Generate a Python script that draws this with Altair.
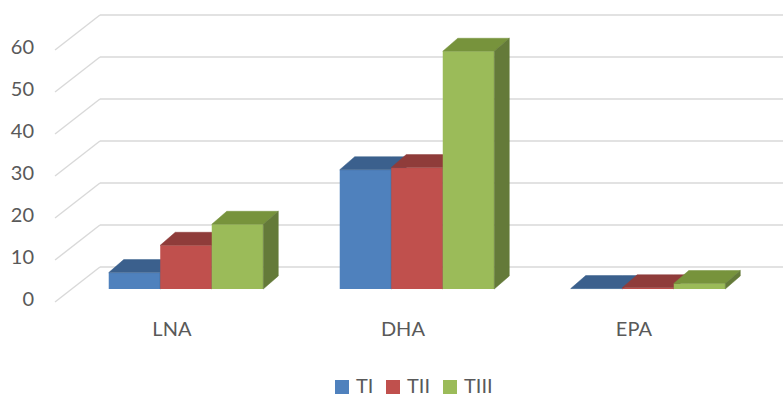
import altair as alt
import pandas as pd

# ---- data ----
categories = ["LNA", "DHA", "EPA"]
series = ["TI", "TII", "TIII"]
TI = [3.9, 28.4, 0.1]
TII = [10.4, 28.9, 0.3]
TIII = [15.4, 56.6, 1.3]
ticks = [0, 10, 20, 30, 40, 50, 60]

values = {"TI": TI, "TII": TII, "TIII": TIII}
front_col = {"TI": "#4F81BD", "TII": "#C0504D", "TIII": "#9BBB59"}
top_col = {"TI": "#3B608D", "TII": "#8F3C3A", "TIII": "#77933C"}
side_col = {"TI": "#33557D", "TII": "#7E3432", "TIII": "#647A39"}

# ---- 3D geometry constants (style) ----
BW = 0.223          # bar width in category units
DX, DY = 0.065, 3.1  # bar depth offset (x units, value units)
FRONT_DX, FRONT_DY = -0.072, -3.1
BACK_DX, BACK_DY = 0.1225, 5.24
XMIN, XMAX = -0.8052, 2.5844
YMIN, YMAX = -25.48, 68.81
WALL_FRONT_X = -0.567
WALL_BACK_X = WALL_FRONT_X + (BACK_DX - FRONT_DX)

xs = alt.Scale(domain=[XMIN, XMAX], nice=False, zero=False)
ys = alt.Scale(domain=[YMIN, YMAX], nice=False, zero=False)
color_scale = alt.Scale(domain=series, range=[front_col[s] for s in series])

grid = "#D9D9D9"
txt = "#595959"
FONT = "Lato"

# gridlines
back_lines = pd.DataFrame({"x": WALL_BACK_X, "x2": XMAX,
                           "y": [t + BACK_DY for t in ticks],
                           "y2": [t + BACK_DY for t in ticks]})
diag_lines = pd.DataFrame({"x": WALL_FRONT_X, "x2": WALL_BACK_X,
                           "y": [t + FRONT_DY for t in ticks],
                           "y2": [t + BACK_DY for t in ticks]})

def rules(df):
    return alt.Chart(df).mark_rule(color=grid, strokeWidth=1.4).encode(
        x=alt.X("x:Q", scale=xs, axis=None), x2="x2:Q",
        y=alt.Y("y:Q", scale=ys, axis=None), y2="y2:Q")

layers = [rules(back_lines), rules(diag_lines)]

# bars per series (draw order left to right)
for si, s in enumerate(series):
    fronts = []
    faces = []
    for ci, c in enumerate(categories):
        v = values[s][ci]
        x0 = ci - 1.5 * BW + si * BW
        x1 = x0 + BW
        fronts.append({"x": x0, "x2": x1, "y": 0.0, "y2": v, "series": s})
        fid = f"{s}-{c}"
        # top face
        for (px, py, py2) in [(x0, v, v), (x0 + DX, v + DY, v), (x1, v + DY, v), (x1 + DX, v + DY, v + DY)]:
            faces.append({"x": px, "y": py, "y2": py2, "face": fid + "-top", "fill": top_col[s]})
        # right side face
        for (px, py, py2) in [(x1, v, 0.0), (x1 + DX, v + DY, DY)]:
            faces.append({"x": px, "y": py, "y2": py2, "face": fid + "-side", "fill": side_col[s]})
    fdf = pd.DataFrame(fronts)
    adf = pd.DataFrame(faces)
    layers.append(
        alt.Chart(fdf).mark_rect(strokeWidth=0).encode(
            x=alt.X("x:Q", scale=xs, axis=None), x2="x2:Q",
            y=alt.Y("y:Q", scale=ys, axis=None), y2="y2:Q",
            color=alt.Color("series:N", scale=color_scale,
                            legend=alt.Legend(orient="none", legendX=332, legendY=377,
                                              direction="horizontal", title=None,
                                              symbolType="square", symbolSize=196,
                                              symbolStrokeWidth=0, labelFontSize=20,
                                              labelFont=FONT, labelColor=txt,
                                              labelOffset=4, columnPadding=9)))
    )
    layers.append(
        alt.Chart(adf).mark_area(strokeWidth=0.5).encode(
            x=alt.X("x:Q", scale=xs, axis=None),
            y=alt.Y("y:Q", scale=ys, axis=None), y2="y2:Q",
            detail="face:N",
            color=alt.Color("fill:N", scale=None),
            stroke=alt.Stroke("fill:N", scale=None))
    )

# y tick labels
ylab = pd.DataFrame({"y": [t + FRONT_DY for t in ticks], "label": [str(t) for t in ticks], "x": -0.658})
layers.append(alt.Chart(ylab).mark_text(align="right", baseline="middle", dy=-2,
                                         font=FONT, fontSize=20, color=txt).encode(
    x=alt.X("x:Q", scale=xs, axis=None), y=alt.Y("y:Q", scale=ys, axis=None), text="label:N"))

# category labels
clab = pd.DataFrame({"x": [i - 0.061 for i in range(len(categories))], "y": FRONT_DY, "label": categories})
layers.append(alt.Chart(clab).mark_text(align="center", baseline="middle", dy=28,
                                         font=FONT, fontSize=20, color=txt).encode(
    x=alt.X("x:Q", scale=xs, axis=None), y=alt.Y("y:Q", scale=ys, axis=None), text="label:N"))

chart = alt.layer(*layers).properties(
    width=783, height=396, padding=0, autosize=alt.AutoSizeParams(type="none"),
    background="white"
).configure_view(stroke=None)

chart.save("out.html", embed_options={"renderer": "svg", "actions": False})
